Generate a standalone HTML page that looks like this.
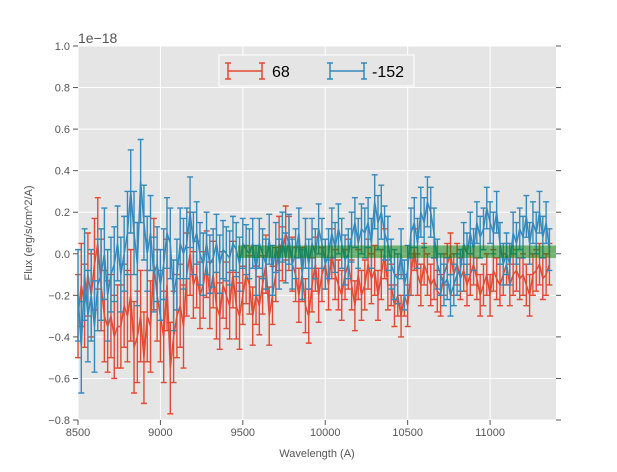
<!DOCTYPE html>
<html><head><meta charset="utf-8"><style>
body{margin:0;background:#fff;}
svg text{font-family:"Liberation Sans",sans-serif;}
</style></head><body>
<svg id="chart" width="617" height="467" xmlns="http://www.w3.org/2000/svg">
<rect x="78" y="46" width="478" height="374" fill="#e5e5e5"/>
<g id="grid"></g><g id="series"></g><g id="axes"></g>
</svg>
<script>
const xStart = 8500, xStep = 20;
const blueVals = [-0.2,-0.45,-0.1,-0.3,-0.2, -0.35,-0.15,-0.1,0.0,-0.2, -0.1,-0.05,0.05,-0.1,0.0, 0.1,0.3,0.1,-0.05,0.35,
 0.15,0.0,0.1,-0.1,-0.05, -0.15,-0.05,0.1,0.05,-0.2, -0.1,0.05,0.0,0.05,0.2, 0.05,0.1,0.0,-0.05,0.05,
 -0.05,-0.02,0.05,-0.05,0.02, 0.0,-0.02,0.05,0.02,-0.05, 0.05,0.02,0.0,0.05,-0.08, 0.05,0.0,-0.05,0.07,-0.08,
 0.03,-0.05,0.08,-0.02,0.07, -0.05,0.0,0.1,-0.1,0.05, -0.05,0.05,0.0,0.12,0.05, -0.05,0.0,0.1,0.03,0.12,
 0.05,-0.03,0.0,0.08,0.15, 0.05,0.12,0.1,0.15,0.05, 0.25,0.15,0.2,0.1,0.05, -0.05,-0.1,-0.12,0.0,-0.15,
 -0.08,0.1,0.15,0.05,0.2, 0.15,0.25,0.2,0.1,-0.05, -0.1,-0.15,-0.12,-0.2,-0.15, -0.1,-0.08,0.05,0.0,0.1,
 0.02,0.15,0.08,0.12,0.22, 0.15,0.1,0.2,0.05,-0.05, 0.0,-0.05,0.1,0.05,0.12, 0.08,0.18,0.05,0.15,0.1, 0.2,0.08,0.15,0.02];
const redVals = [-0.3,-0.15,-0.25,-0.1,-0.2, -0.05,0.05,-0.15,-0.3,-0.35, -0.3,-0.4,-0.35,-0.35,-0.25, -0.3,-0.2,-0.45,-0.4,-0.3,
 -0.5,-0.3,-0.35,-0.05,-0.2, -0.3,-0.4,-0.15,-0.55,-0.4, -0.3,-0.25,-0.35,-0.1,0.0, -0.15,-0.1,-0.2,-0.15,-0.05,
 -0.2,-0.1,-0.25,-0.3,-0.15, -0.2,-0.25,-0.1,-0.25,-0.3, -0.2,-0.1,-0.15,-0.3,-0.2, -0.25,-0.15,-0.05,-0.3,-0.2,
 -0.1,0.05,0.0,0.1,0.05, -0.05,-0.1,-0.2,-0.1,-0.25, -0.3,-0.15,-0.05,-0.2,-0.1, -0.05,-0.15,0.0,-0.1,-0.15,
 -0.2,-0.1,-0.05,-0.15,-0.25, -0.1,-0.2,-0.15,-0.05,-0.12, -0.08,-0.2,-0.1,0.0,-0.15, -0.15,-0.25,-0.2,-0.3,-0.2,
 -0.25,-0.1,0.02,-0.1,-0.15, -0.05,-0.1,-0.15,-0.12,-0.18, -0.2,-0.1,-0.05,0.0,-0.1, -0.05,-0.12,-0.08,-0.15,-0.1,
 -0.05,-0.12,-0.2,-0.15,-0.1, -0.2,-0.08,-0.12,-0.15,-0.1, -0.05,-0.15,-0.1,-0.08,-0.12, -0.1,-0.15,-0.2,-0.1,-0.08, -0.05,-0.12,-0.1,-0.05];
// errors per 100 A segment
const blueErr = [0.22,0.22,0.18,0.2,0.18,0.17,0.17,0.15,0.14,0.13,0.12,0.12,0.12,0.12,0.12,0.12,0.12,0.12,0.13,0.12,0.12,0.12,0.1,0.1,0.1,0.1,0.1,0.1,0.1];
const redErr = [0.2,0.22,0.2,0.22,0.22,0.22,0.2,0.16,0.16,0.16,0.14,0.14,0.13,0.13,0.13,0.12,0.12,0.12,0.12,0.1,0.1,0.1,0.1,0.1,0.1,0.1,0.1,0.1,0.1];
const band = [9470, 11400, -0.02, 0.04];
const xTicks = [8500,9000,9500,10000,10500,11000];
const yTicks = [-0.8,-0.6,-0.4,-0.2,0.0,0.2,0.4,0.6,0.8,1.0];
const yTickLabels = ["−0.8","−0.6","−0.4","−0.2","0.0","0.2","0.4","0.6","0.8","1.0"];

const NS="http://www.w3.org/2000/svg";
const X0=78,X1=556,Y0=46,Y1=420;
const xs=v=>X0+(v-8500)/2900*(X1-X0);
const ys=v=>Y1-(v+0.8)/1.8*(Y1-Y0);
function mk(t,a,p){const e=document.createElementNS(NS,t);for(const k in a)e.setAttribute(k,a[k]);p.appendChild(e);return e;}
const grid=document.getElementById('grid'),ser=document.getElementById('series'),ax=document.getElementById('axes');
xTicks.forEach(t=>{const l=mk('line',{x1:xs(t),x2:xs(t),y1:Y0,y2:Y1,stroke:'#fff','stroke-width':1},grid);


const tk=mk('line',{x1:xs(t),x2:xs(t),y1:Y1,y2:Y1+5,stroke:'#555'},ax);


const tx=mk('text',{x:xs(t),y:Y1+16,'text-anchor':'middle','font-size':11,fill:'#555'},ax);tx.textContent=t;

});
yTicks.forEach((t,i)=>{const l=mk('line',{x1:X0,x2:X1,y1:ys(t),y2:ys(t),stroke:'#fff','stroke-width':1},grid);


const tk=mk('line',{x1:X0-5,x2:X0,y1:ys(t),y2:ys(t),stroke:'#555'},ax);


const tk2=mk('line',{x1:X1,x2:X1+5,y1:ys(t),y2:ys(t),stroke:'#555'},ax);


const tx=mk('text',{x:X0-8,y:ys(t)+4,'text-anchor':'end','font-size':11,fill:'#555'},ax);tx.textContent=yTickLabels[i];

});
function series(vals,errs,color,name){
  const g=mk('g',{},ser);
  
  
  let d='';
  vals.forEach((v,i)=>{const w=xStart+i*xStep,x=xs(w),e=errs[Math.min(errs.length-1,Math.floor(i/5))];
    const yt=ys(v+e),yb=ys(v-e);
    const eb=mk('path',{d:`M${x},${yt}V${yb}M${x-3},${yt}H${x+3}M${x-3},${yb}H${x+3}`,stroke:color,'stroke-width':1.4,fill:'none'},g);
    
    
    d+=(i?'L':'M')+x+','+ys(v);});
  const p=mk('path',{d:d,stroke:color,'stroke-width':1.5,fill:'none'},g);
  
  
}
series(redVals,redErr,'#E24A33','series-68');
series(blueVals,blueErr,'#348ABD','series-neg152');
const b=mk('rect',{x:xs(band[0]),y:ys(band[3]),width:xs(band[1])-xs(band[0]),height:ys(band[2])-ys(band[3]),fill:'#008000','fill-opacity':0.5},ser);


</script>
<svg style="position:absolute;left:0;top:0" width="617" height="467" xmlns="http://www.w3.org/2000/svg">
<text x="78" y="43" font-size="14" fill="#555">1e−18</text>
<g>
<rect x="219" y="55" width="195" height="31" fill="#e5e5e5" stroke="#fff" stroke-width="1"/>
<g><path d="M228,71H262M228,63V79M262,63V79M225,63H231M225,79H231M259,63H265M259,79H265" stroke="#E24A33" stroke-width="1.5" fill="none"/><text x="272" y="77" font-size="16" fill="#000">68</text></g>
<g><path d="M330,71H364M330,63V79M364,63V79M327,63H333M327,79H333M361,63H367M361,79H367" stroke="#348ABD" stroke-width="1.5" fill="none"/><text x="372" y="77" font-size="16" fill="#000">-152</text></g>
</g>
<text x="317" y="457" font-size="11" fill="#555" text-anchor="middle">Wavelength (A)</text>
<text x="32" y="233" font-size="11" fill="#555" text-anchor="middle" transform="rotate(-90 32 233)">Flux (erg/s/cm^2/A)</text>
</svg>
</body></html>
